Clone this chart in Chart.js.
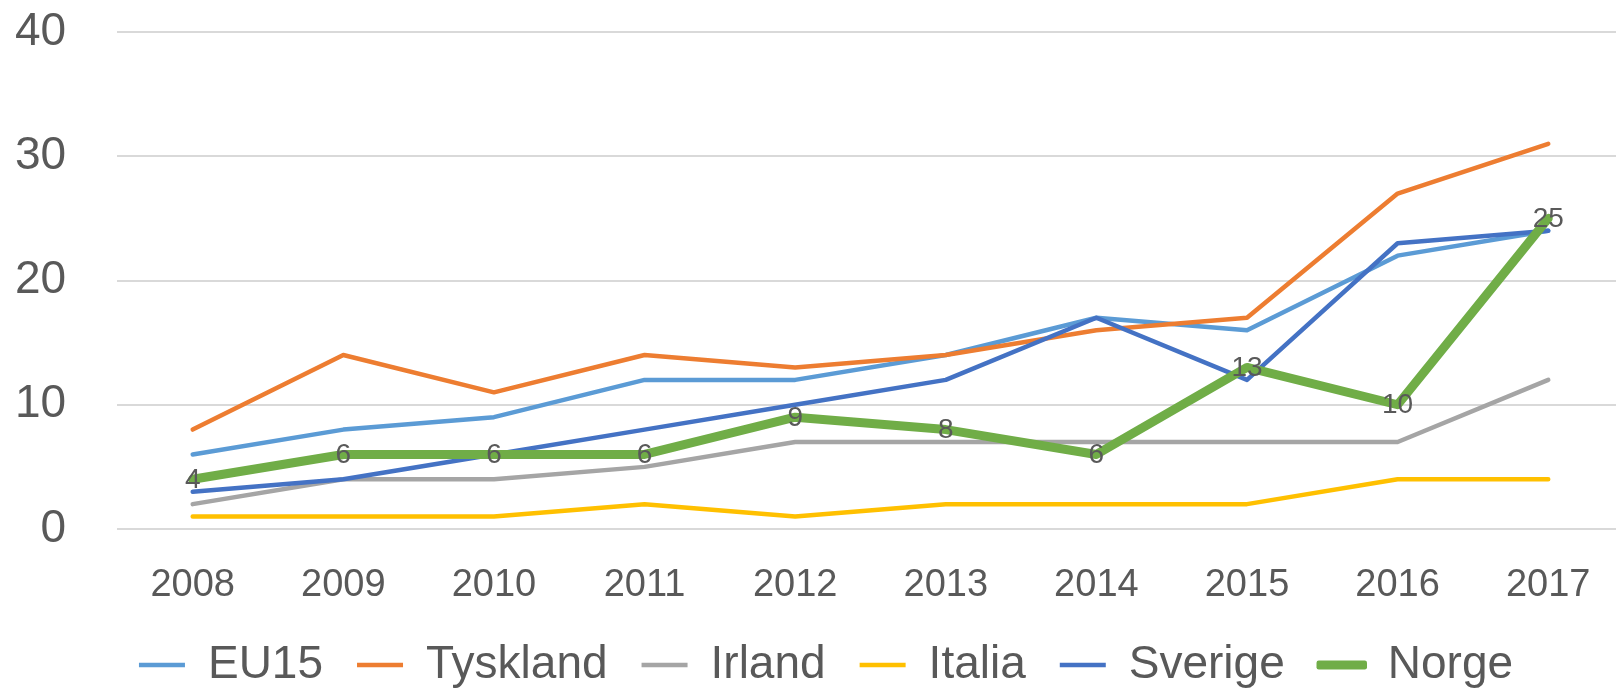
<!DOCTYPE html>
<html>
<head>
<meta charset="utf-8">
<script src="https://cdn.jsdelivr.net/npm/chart.js@4.4.1/dist/chart.umd.min.js"></script>
<style>
  html, body { margin: 0; padding: 0; background: #fff; overflow: hidden; }
  #wrap { position: absolute; left: 0; top: 0; width: 1624px; height: 690px; }
</style>
</head>
<body>
<div id="wrap"><canvas id="chart" width="1624" height="690"></canvas></div>
<script>
// Line chart, Norway vs EU countries 2008-2017
const years = ["2008", "2009", "2010", "2011", "2012", "2013", "2014", "2015", "2016", "2017"];
const eu15 = [6, 8, 9, 12, 12, 14, 17, 16, 22, 24];
const tyskland = [8, 14, 11, 14, 13, 14, 16, 17, 27, 31];
const irland = [2, 4, 4, 5, 7, 7, 7, 7, 7, 12];
const italia = [1, 1, 1, 2, 1, 2, 2, 2, 4, 4];
const sverige = [3, 4, 6, 8, 10, 12, 17, 12, 23, 24];
const norge = [4, 6, 6, 6, 9, 8, 6, 13, 10, 25];
const yTicks = [0, 10, 20, 30, 40];

const FONT = "'Liberation Sans', Arial, sans-serif";
const TEXT = "#595959";

function series(label, data, color, width, order) {
  return {
    label, data, order,
    borderColor: color, backgroundColor: color,
    borderWidth: width, tension: 0, pointRadius: 0, pointHoverRadius: 0,
    borderCapStyle: "round", borderJoinStyle: "round", fill: false,
  };
}

// value labels on the Norge line, centred on each point
const norgeLabels = {
  id: "norgeLabels",
  afterDatasetsDraw(chart) {
    const index = chart.data.datasets.findIndex((d) => d.label === "Norge");
    const meta = chart.getDatasetMeta(index);
    const ctx = chart.ctx;
    ctx.save();
    ctx.font = `28px ${FONT}`;
    ctx.fillStyle = TEXT;
    ctx.textAlign = "center";
    ctx.textBaseline = "middle";
    meta.data.forEach((pt, i) => ctx.fillText(String(norge[i]), pt.x, pt.y + 1));
    ctx.restore();
  },
};

new Chart(document.getElementById("chart"), {
  type: "line",
  data: {
    labels: years,
    datasets: [
      series("EU15", eu15, "#5B9BD5", 4.5, 6),
      series("Tyskland", tyskland, "#ED7D31", 4.5, 5),
      series("Irland", irland, "#A5A5A5", 4.5, 4),
      series("Italia", italia, "#FFC000", 4.5, 3),
      series("Sverige", sverige, "#4472C4", 4.5, 2),
      series("Norge", norge, "#70AD47", 9, 1),
    ],
  },
  options: {
    responsive: false, animation: false, devicePixelRatio: 1,
    layout: { padding: { left: 28, right: 0, top: 32, bottom: -8 } },
    plugins: {
      tooltip: { enabled: false },
      legend: {
        position: "bottom",
        labels: {
          font: { family: FONT, size: 46 },
          color: TEXT,
          boxWidth: 46, boxHeight: 4.5, padding: 34,
          sort: (a, b) => a.datasetIndex - b.datasetIndex,
          generateLabels(chart) {
            const items = Chart.defaults.plugins.legend.labels.generateLabels(chart);
            return items.map((item) => {
              const thick = item.text === "Norge";
              return { ...item, lineWidth: thick ? 4.5 : 0, strokeStyle: item.fillStyle };
            });
          },
        },
      },
    },
    scales: {
      x: {
        offset: true,
        grid: { display: false, drawTicks: false },
        border: { display: false },
        ticks: { color: TEXT, font: { family: FONT, size: 38 }, padding: 33.5, maxRotation: 0 },
        afterFit: (scale) => { scale.height = 79; },
      },
      y: {
        min: 0, max: 40,
        afterBuildTicks: (scale) => { scale.ticks = yTicks.map((value) => ({ value })); },
        grid: { color: "#D9D9D9", lineWidth: 2, drawTicks: false },
        border: { display: false },
        // mirrored so the labels are not clipped to the narrow axis box
        ticks: { color: TEXT, font: { family: FONT, size: 46 }, mirror: true, crossAlign: "far", padding: -102.4 },
        afterFit: (scale) => { scale.width = 89.4; },
      },
    },
  },
  plugins: [norgeLabels],
});
</script>
</body>
</html>
